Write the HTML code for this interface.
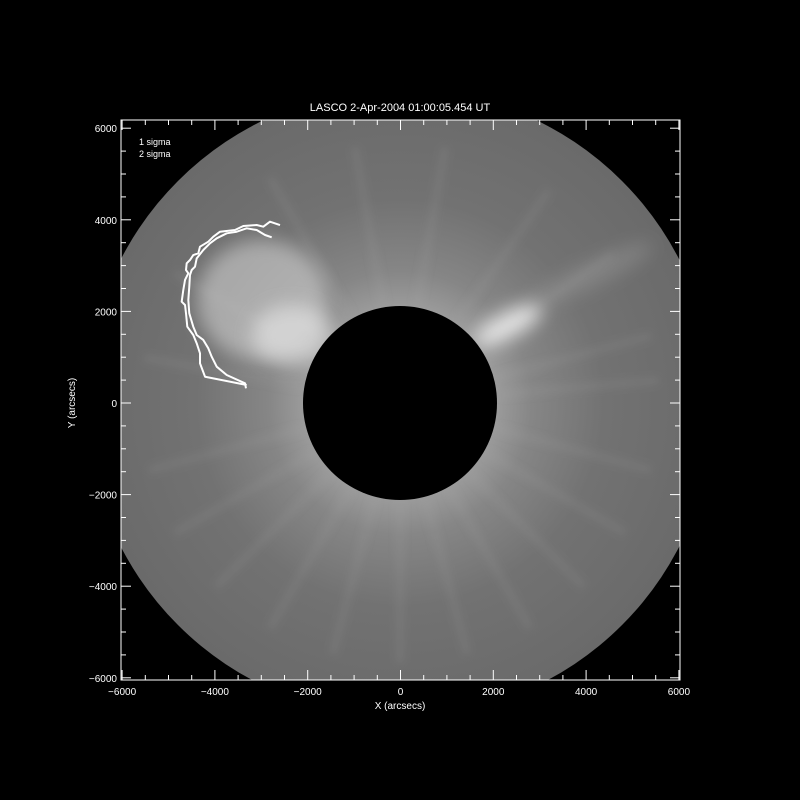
<!DOCTYPE html>
<html><head><meta charset="utf-8"><style>
html,body{margin:0;padding:0;background:#000;}
svg{display:block;font-family:"Liberation Sans",sans-serif;}
</style></head><body>
<svg id="chart" width="800" height="800" viewBox="0 0 800 800">
<defs>
<radialGradient id="corona" cx="400" cy="403" r="314" gradientUnits="userSpaceOnUse">
<stop offset="0.3" stop-color="#9c9c9c"/><stop offset="0.42" stop-color="#868686"/><stop offset="0.65" stop-color="#727272"/><stop offset="1" stop-color="#6a6a6a"/>
</radialGradient>
<clipPath id="box"><rect x="121" y="120" width="559" height="560"/></clipPath>
<filter id="blur8" x="-100%" y="-100%" width="300%" height="300%"><feGaussianBlur stdDeviation="9"/></filter>
<filter id="blur3" x="-50%" y="-50%" width="200%" height="200%"><feGaussianBlur stdDeviation="4"/></filter>
</defs>
<rect width="800" height="800" fill="#000"/>
<g clip-path="url(#box)">
<circle cx="400" cy="403" r="314" fill="url(#corona)"/>
<g id="streaks" filter="url(#blur3)" stroke="#b0b0b0" stroke-opacity="0.12"></g>
<ellipse cx="262" cy="300" rx="65" ry="60" fill="#cfcfcf" opacity="0.6" filter="url(#blur8)"/>
<ellipse cx="292" cy="335" rx="40" ry="30" fill="#e8e8e8" opacity="0.6" filter="url(#blur8)"/>
<ellipse cx="508" cy="325" rx="38" ry="13" transform="rotate(-28 508 325)" fill="#f2f2f2" opacity="0.85" filter="url(#blur8)"/>
<ellipse cx="590" cy="275" rx="70" ry="12" transform="rotate(-26 590 275)" fill="#a8a8a8" opacity="0.35" filter="url(#blur8)"/>
<circle cx="400" cy="403" r="97" fill="#000"/>
</g>
<g id="contours" fill="none" stroke="#fff" stroke-width="2" stroke-linejoin="round"></g>
<rect x="121" y="120" width="559" height="560" fill="none" stroke="#fff" stroke-width="1"/>
<g id="ticks" stroke="#fff" stroke-width="1"></g>
<g id="labels" fill="#fff" font-size="10"></g>
<text x="400" y="111" fill="#fff" font-size="11" text-anchor="middle">LASCO  2-Apr-2004 01:00:05.454 UT</text>
<text x="400" y="709" fill="#fff" font-size="10" text-anchor="middle">X (arcsecs)</text>
<text x="0" y="0" fill="#fff" font-size="10" text-anchor="middle" transform="translate(75 403) rotate(-90)">Y (arcsecs)</text>
<text x="139" y="145" fill="#fff" font-size="9">1 sigma</text>
<text x="139" y="157" fill="#fff" font-size="9">2 sigma</text>
</svg>
<script>
const xTicks=[-6000,-4000,-2000,0,2000,4000,6000];
const yTicks=[-6000,-4000,-2000,0,2000,4000,6000];
const sigma1X=[-2597,-2813,-2957,-3099,-3388,-3567,-3890,-4034,-4142,-4321,-4358,-4466,-4537,-4608,-4623,-4573,-4644,-4681,-4716,-4644,-4623,-4595,-4466,-4392,-4321,-4321,-4213,-3315];
const sigma1Y=[3886,3959,3849,3886,3865,3777,3740,3631,3522,3413,3269,3231,3122,3050,2904,2832,2686,2467,2212,2140,1959,1666,1485,1303,1085,866,574,393];
const sigma2X=[-2776,-2920,-3099,-3315,-3530,-3746,-3961,-4106,-4250,-4392,-4429,-4500,-4537,-4552,-4573,-4552,-4466,-4392,-4250,-4142,-4069,-3961,-3746,-3351,-3330];
const sigma2Y=[3618,3668,3777,3814,3740,3705,3596,3487,3341,3159,2976,2904,2795,2539,2249,1959,1666,1485,1376,1194,1011,793,611,430,321];
const streakAngles=[15,35,55,80,100,120,150,170,195,210,225,240,255,270,285,300,315,330,345,5];
const NS='http://www.w3.org/2000/svg';
const X=v=>400.5+v*0.0464, Y=v=>403-v*0.0458;
function mk(t,a,p){const e=document.createElementNS(NS,t);for(const k in a)e.setAttribute(k,a[k]);p.appendChild(e);return e;}
const st=document.getElementById('streaks');
streakAngles.forEach(a=>{const r=a*Math.PI/180;const l=mk('line',{x1:400+100*Math.cos(r),y1:403-100*Math.sin(r),x2:400+260*Math.cos(r),y2:403-260*Math.sin(r),'stroke-width':8},st);

});
const tg=document.getElementById('ticks'),lg=document.getElementById('labels');
for(let v=-6000;v<=6000;v+=500){const maj=v%2000===0,L=maj?10:5;
const a=mk('line',{x1:X(v),x2:X(v),y1:680,y2:680-L},tg);
const b=mk('line',{x1:X(v),x2:X(v),y1:120,y2:120+L},tg);
const c=mk('line',{y1:Y(v),y2:Y(v),x1:121,x2:121+L},tg);
const d=mk('line',{y1:Y(v),y2:Y(v),x1:680,x2:680-L},tg);}
xTicks.forEach(v=>{const t=mk('text',{x:X(v),y:695,'text-anchor':'middle'},lg);t.textContent=String(v).replace('-','\u2212');
});
yTicks.forEach(v=>{const t=mk('text',{x:117,y:Y(v)+4,'text-anchor':'end'},lg);t.textContent=String(v).replace('-','\u2212');
});
const cg=document.getElementById('contours');
[[sigma1X,sigma1Y,'contour-1-sigma'],[sigma2X,sigma2Y,'contour-2-sigma']].forEach(([xs,ys,n])=>{
const p=mk('polyline',{points:xs.map((x,i)=>X(x)+','+Y(ys[i])).join(' ')},cg);

});
</script>
</body></html>
